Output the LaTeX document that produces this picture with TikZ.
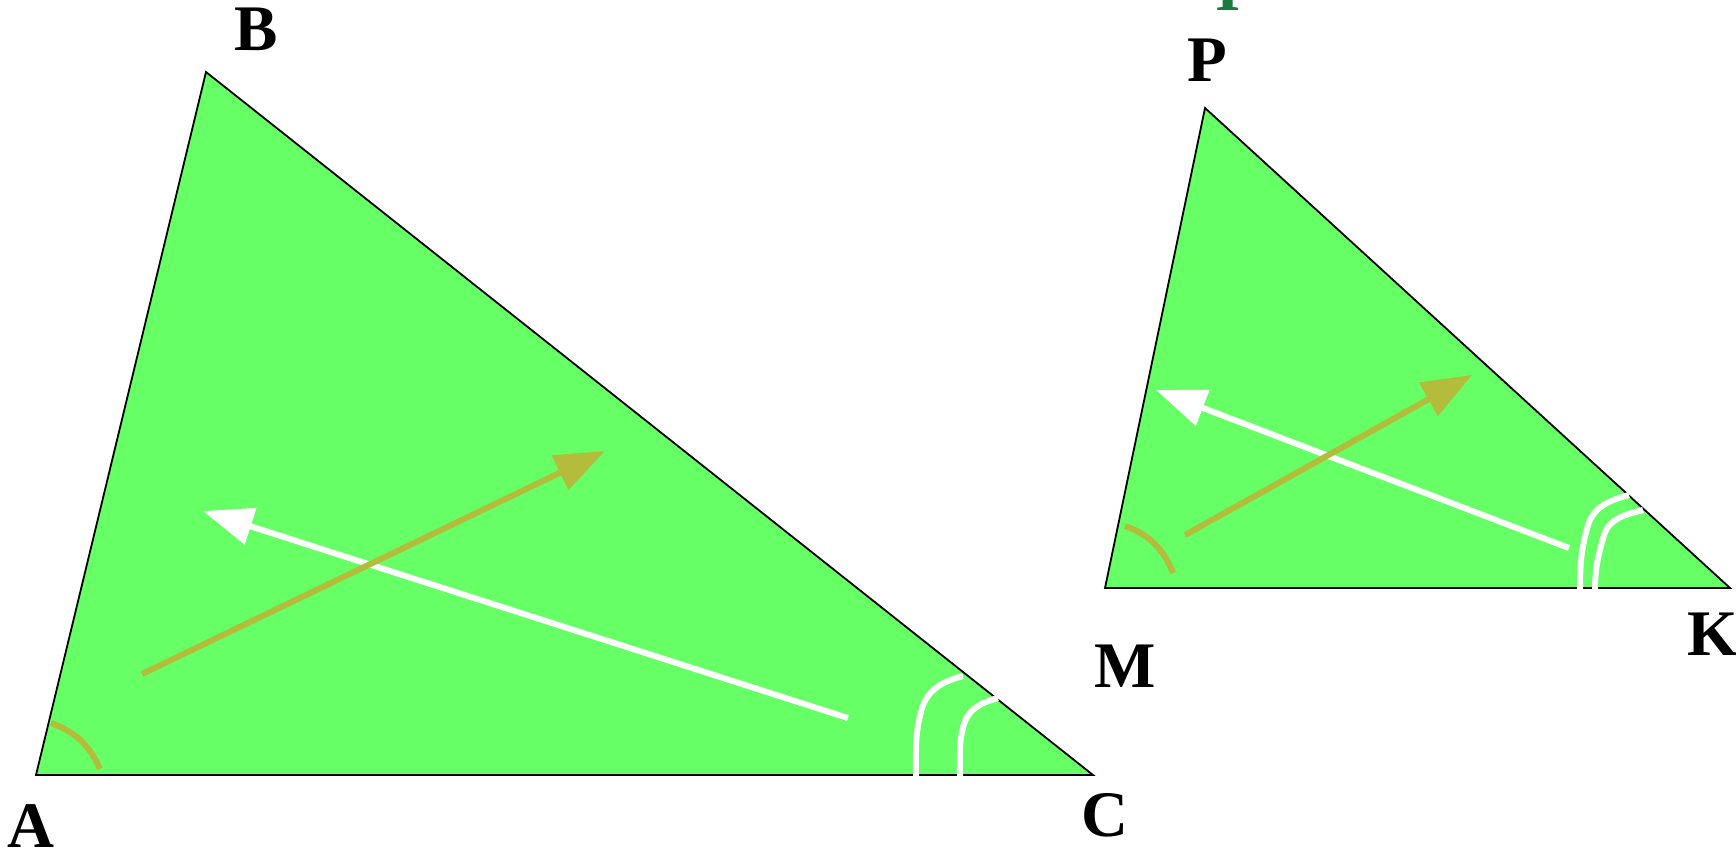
\documentclass[tikz,border=0pt]{standalone}
\usepackage{fontspec}
\setmainfont{Liberation Serif}
\usetikzlibrary{arrows.meta}
\definecolor{trigreen}{RGB}{102,255,102}
\definecolor{olive}{RGB}{180,188,60}
\definecolor{darkgr}{RGB}{27,122,62}
\tikzset{
  lbl/.style={font=\fontsize{65}{70}\selectfont\bfseries, anchor=base, inner sep=0pt},
  tri/.style={fill=trigreen, draw=black, line width=1.8pt, line join=miter},
  whitemark/.style={draw=white, line width=6pt},
  olivemark/.style={draw=olive, line width=6pt},
  whitearrow/.style={draw=white, line width=6pt, -{Triangle[length=50pt,width=37pt]}},
  olivearrow/.style={draw=olive, line width=6pt, -{Triangle[length=50pt,width=37pt]}},
}
\begin{document}
\begin{tikzpicture}[x=1pt,y=-1pt]
\useasboundingbox (0,0) rectangle (1736,855);
\clip (0,0) rectangle (1736,855);
% vertices
\coordinate (A) at (36,775);
\coordinate (B) at (206,72);
\coordinate (C) at (1093,775);
\coordinate (M) at (1105,588);
\coordinate (P) at (1205,108);
\coordinate (K) at (1730,588);
% triangles
\path[tri] (A) -- (B) -- (C) -- cycle;
\path[tri] (M) -- (P) -- (K) -- cycle;
% angle marks, triangle ABC
\path[olivemark] (51,723) to[out=-20,in=114] (100,769);
\path[whitemark] (963,676) to[out=195,in=72] (922,708) to[out=254,in=90] (916,777);
\path[whitemark] (998,698) to[out=195,in=72] (964,724) to[out=254,in=90] (960,777);
% angle marks, triangle MPK
\path[olivemark] (1125,526) to[out=-20,in=112] (1173,573);
\path[whitemark] (1629,495) to[out=195,in=72] (1588,525) to[out=254,in=90] (1580,590);
\path[whitemark] (1643,510) to[out=195,in=72] (1604,535) to[out=254,in=90] (1595,590);
% arrows, triangle ABC
\coordinate (w1s) at (848,718);
\coordinate (w1e) at (203,511);
\coordinate (o1s) at (142,674);
\coordinate (o1e) at (605,451);
\path[whitearrow] (w1s) -- (w1e);
\path[olivearrow] (o1s) -- (o1e);
% arrows, triangle MPK
\coordinate (w2s) at (1569,548);
\coordinate (w2e) at (1156,390);
\coordinate (o2s) at (1185,535);
\coordinate (o2e) at (1472,375);
\path[whitearrow] (w2s) -- (w2e);
\path[olivearrow] (o2s) -- (o2e);
% labels
\node[lbl] (lA) at (31,847) {A};
\node[lbl] (lB) at (256,50) {B};
\node[lbl] (lC) at (1105,836) {C};
\node[lbl] (lM) at (1125,687) {M};
\node[lbl] (lP) at (1207,81) {P};
\node[lbl] (lK) at (1713,655) {K};
\node[lbl, text=darkgr] (lT) at (1228,10) {I};
\end{tikzpicture}
\end{document}
